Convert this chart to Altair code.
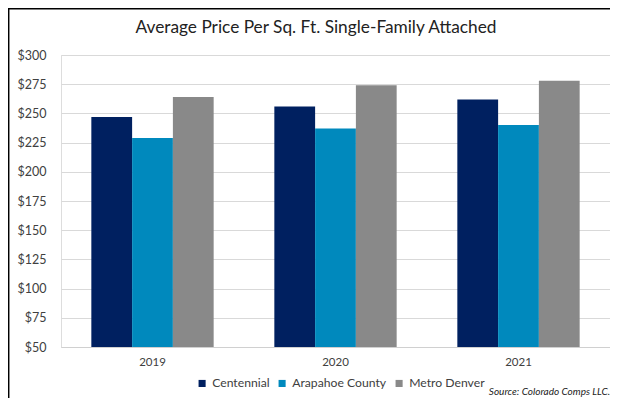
import altair as alt
import pandas as pd

years = ["2019", "2020", "2021"]
series = ["Centennial", "Arapahoe County", "Metro Denver"]
centennial = [247, 256, 262]
arapahoe = [229, 237, 240]
metro = [264, 274, 278]
colors = ["#002060", "#0089BD", "#898989"]
y_ticks = [50, 75, 100, 125, 150, 175, 200, 225, 250, 275, 300]
title_text = "Average Price Per Sq. Ft. Single-Family Attached"
source_text = "Source: Colorado Comps LLC."

rows = []
for i, yr in enumerate(years):
    for s, vals in zip(series, [centennial, arapahoe, metro]):
        rows.append({"year": yr, "series": s, "value": vals[i]})
df = pd.DataFrame(rows)

FONT = "Lato"

bars = alt.Chart(df).mark_bar(clip=True).encode(
    x=alt.X("year:N", title=None, sort=years,
            scale=alt.Scale(paddingInner=0, paddingOuter=0),
            axis=alt.Axis(labelAngle=0, ticks=False, domain=True, domainColor="#d0d0d0",
                          labelFontSize=11.5, labelPadding=9, labelColor="#404040",
                          labelFont=FONT, grid=False)),
    xOffset=alt.XOffset("series:N", sort=series,
                        scale=alt.Scale(paddingInner=0, paddingOuter=0.744)),
    y=alt.Y("value:Q", title=None, scale=alt.Scale(domain=[50, 300]),
            axis=alt.Axis(values=y_ticks, labelExpr="'$' + datum.value", ticks=False,
                          domain=False, gridColor="#d9d9d9", labelPadding=15,
                          labelFontSize=12.5, labelColor="#404040", labelFont=FONT)),
    color=alt.Color("series:N", sort=series,
                    scale=alt.Scale(domain=series, range=colors),
                    legend=alt.Legend(orient="none", legendX=135, legendY=322,
                                      direction="horizontal", title=None,
                                      symbolType="square", symbolSize=50,
                                      symbolStrokeWidth=0, labelFontSize=12.2,
                                      labelFont=FONT, labelColor="#404040",
                                      columnPadding=6, labelOffset=4)),
)

title = alt.Chart(pd.DataFrame({"t": [title_text]})).mark_text(
    font=FONT, fontSize=17.3, color="#222222", align="center", baseline="middle"
).encode(text="t:N", x=alt.value(255), y=alt.value(-27))

source = alt.Chart(pd.DataFrame({"t": [source_text]})).mark_text(
    font=FONT, fontSize=10, fontStyle="italic", color="#222222", align="right", baseline="bottom"
).encode(text="t:N", x=alt.value(549), y=alt.value(342))

frame_left = alt.Chart(pd.DataFrame({"a": [0]})).mark_rule(color="#000000", strokeWidth=1.5).encode(
    x=alt.value(-52.3), y=alt.value(-47), y2=alt.value(343))
frame_top = alt.Chart(pd.DataFrame({"a": [0]})).mark_rule(color="#000000", strokeWidth=1.5).encode(
    x=alt.value(-53), x2=alt.value(549), y=alt.value(-46.3))

chart = alt.layer(bars, title, source, frame_left, frame_top).properties(
    width=549, height=292,
    autosize=alt.AutoSizeParams(type="none"),
    padding={"left": 53, "top": 47, "right": 0, "bottom": 51},
).configure_view(stroke=None).configure(font=FONT)

chart.save("out.html", embed_options={"renderer": "svg", "actions": False})
